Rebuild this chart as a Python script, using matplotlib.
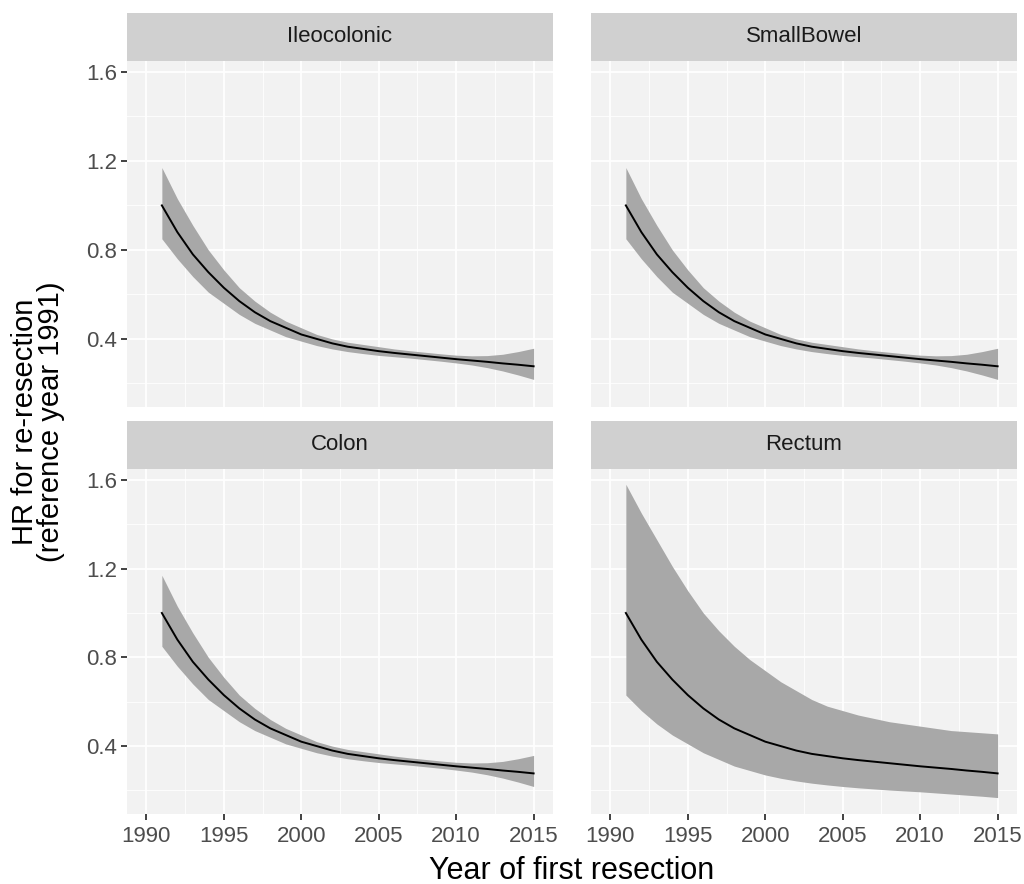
import numpy as np
import matplotlib
matplotlib.use("Agg")
import matplotlib.pyplot as plt

plt.rcParams["font.family"] = ["Liberation Sans", "DejaVu Sans"]

# ---- data ----
years = list(range(1991, 2016))

hr_fit = [1.00, 0.88, 0.78, 0.70, 0.63, 0.57, 0.52, 0.48, 0.45, 0.42,
          0.40, 0.38, 0.365, 0.355, 0.345, 0.337, 0.330, 0.323, 0.316, 0.309,
          0.303, 0.297, 0.290, 0.284, 0.277]

# Ileocolonic / SmallBowel / Colon share the same band
hr_upper = [1.17, 1.03, 0.91, 0.80, 0.71, 0.63, 0.57, 0.52, 0.48, 0.45,
            0.42, 0.40, 0.385, 0.375, 0.365, 0.355, 0.347, 0.340, 0.333, 0.327,
            0.324, 0.325, 0.331, 0.343, 0.358]
hr_lower = [0.85, 0.76, 0.68, 0.61, 0.56, 0.51, 0.47, 0.44, 0.41, 0.39,
            0.37, 0.355, 0.343, 0.334, 0.326, 0.320, 0.314, 0.307, 0.300, 0.292,
            0.283, 0.271, 0.256, 0.238, 0.218]

rectum_upper = [1.58, 1.45, 1.33, 1.21, 1.10, 1.00, 0.92, 0.85, 0.79, 0.74,
                0.69, 0.65, 0.61, 0.58, 0.56, 0.54, 0.525, 0.51, 0.50, 0.49,
                0.48, 0.47, 0.465, 0.46, 0.455]
rectum_lower = [0.63, 0.56, 0.50, 0.45, 0.41, 0.37, 0.34, 0.31, 0.29, 0.27,
                0.255, 0.243, 0.233, 0.225, 0.218, 0.212, 0.207, 0.202, 0.198, 0.194,
                0.189, 0.184, 0.179, 0.174, 0.168]

facets = ["Ileocolonic", "SmallBowel", "Colon", "Rectum"]
bands = {
    "Ileocolonic": (hr_lower, hr_upper),
    "SmallBowel": (hr_lower, hr_upper),
    "Colon": (hr_lower, hr_upper),
    "Rectum": (rectum_lower, rectum_upper),
}

x_ticks = [1990, 1995, 2000, 2005, 2010, 2015]
y_ticks = [0.4, 0.8, 1.2, 1.6]

# ---- layout (pixels of the 1024x884 reference) ----
W, H = 1024, 884
col_left = [127, 591]
col_w = 426
row_top = [61, 469]      # panel top (px)
row_h = [346, 345]
strip_h = 48

PANEL_BG = "#F2F2F2"
STRIP_BG = "#D0D0D0"
BAND = "#A8A8A8"
TICK_COL = "#4D4D4D"

fig = plt.figure(figsize=(W / 100, H / 100), dpi=100)
fig.patch.set_facecolor("white")

for i, name in enumerate(facets):
    r, c = divmod(i, 2)
    left = col_left[c] / W
    bottom = 1 - (row_top[r] + row_h[r]) / H
    ax = fig.add_axes([left, bottom, col_w / W, row_h[r] / H])
    ax.set_facecolor(PANEL_BG)
    for s in ax.spines.values():
        s.set_visible(False)

    lo, hi = bands[name]
    ax.fill_between(years, lo, hi, color=BAND, lw=0, zorder=2)
    ax.plot(years, hr_fit, color="black", lw=1.4, zorder=3)

    ax.set_xlim(1988.75, 2016.25)
    ax.set_ylim(0.094, 1.649)
    ax.set_xticks(x_ticks)
    ax.set_yticks(y_ticks)
    ax.set_xticks([1992.5, 1997.5, 2002.5, 2007.5, 2012.5], minor=True)
    ax.set_yticks([0.2, 0.6, 1.0, 1.4], minor=True)
    ax.grid(True, which="major", color="white", lw=1.3, zorder=1)
    ax.grid(True, which="minor", color="white", lw=0.6, zorder=1)
    ax.set_axisbelow(True)
    ax.tick_params(which="minor", length=0)
    ax.tick_params(which="major", length=4, width=1.3, color="#333333",
                   labelsize=16, labelcolor=TICK_COL, pad=3)
    ax.tick_params(axis="x", pad=5)
    ax.yaxis.set_major_formatter(matplotlib.ticker.FormatStrFormatter("%.1f"))

    if r == 0:
        ax.tick_params(axis="x", labelbottom=False, length=0)
    if c == 1:
        ax.tick_params(axis="y", labelleft=False, length=0)

    # facet strip
    sax = fig.add_axes([left, 1 - row_top[r] / H, col_w / W, strip_h / H])
    sax.set_facecolor(STRIP_BG)
    sax.set_xticks([])
    sax.set_yticks([])
    for s in sax.spines.values():
        s.set_visible(False)
    sax.text(0.5, 0.5, name, ha="center", va="center", fontsize=16,
             color="#1A1A1A", transform=sax.transAxes)

fig.text(572 / W, 1 - 871 / H, "Year of first resection", ha="center",
         va="center", fontsize=22, color="black")
fig.text(38 / W, 1 - 422 / H, "HR for re-resection\n(reference year 1991)",
         ha="center", va="center", rotation=90, fontsize=21, color="black",
         linespacing=0.95)

fig.savefig("out.png", dpi=100)
